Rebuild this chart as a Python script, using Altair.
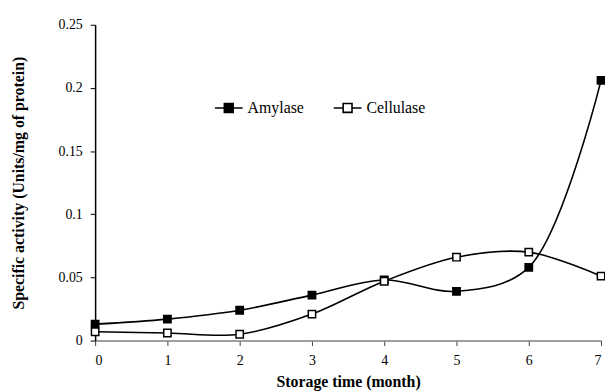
import altair as alt
import pandas as pd

months = [0, 1, 2, 3, 4, 5, 6, 7]
amylase = [0.013, 0.017, 0.024, 0.036, 0.048, 0.039, 0.058, 0.206]
cellulase = [0.007, 0.006, 0.005, 0.021, 0.047, 0.066, 0.070, 0.051]
series_names = ["Amylase", "Cellulase"]
y_ticks = [0, 0.05, 0.1, 0.15, 0.2, 0.25]

rows = []
for m, a in zip(months, amylase):
    rows.append({"month": m, "value": a, "series": "Amylase"})
for m, c in zip(months, cellulase):
    rows.append({"month": m, "value": c, "series": "Cellulase"})
df = pd.DataFrame(rows)

font = "Liberation Serif"

x = alt.X("month:Q", scale=alt.Scale(domain=[0, 7], nice=False, zero=False),
          axis=alt.Axis(title="Storage time (month)", values=months, format="d",
                        domainColor="#808080", tickColor="#404040", tickSize=5,
                        labelPadding=8, titlePadding=6, grid=False,
                        labelFont=font, labelFontSize=14, labelColor="black",
                        titleFont=font, titleFontSize=16, titleFontWeight="bold",
                        titleColor="black"))
y = alt.Y("value:Q", scale=alt.Scale(domain=[0, 0.25], nice=False),
          axis=alt.Axis(title="Specific activity (Units/mg of protein)", values=y_ticks,
                        format="~g",
                        domainColor="black", tickColor="black", tickSize=5,
                        labelPadding=8, titlePadding=32, grid=False,
                        labelFont=font, labelFontSize=14, labelColor="black",
                        titleFont=font, titleFontSize=16, titleFontWeight="bold",
                        titleColor="black"))

line = alt.Chart(df).mark_line(interpolate="catmull-rom", color="black", strokeWidth=1.6).encode(
    x=x, y=y, detail="series:N")

pts = alt.Chart(df).mark_point(shape="square", size=55, strokeWidth=1.5, opacity=1,
                                filled=False, stroke="black").encode(
    x=x, y=y,
    fill=alt.Fill("series:N", scale=alt.Scale(domain=series_names, range=["black", "white"]),
                  legend=alt.Legend(title=None, orient="none", legendX=120, legendY=69,
                                    direction="horizontal",
                                    symbolType="M-1,0H-0.32M0.32,0H1M-0.32,-0.32H0.32V0.32H-0.32Z",
                                    symbolSize=784, symbolStrokeColor="black",
                                    symbolStrokeWidth=1.6, symbolOpacity=1,
                                    labelFont=font, labelFontSize=16, labelColor="black",
                                    columnPadding=26, labelOffset=4)))

chart = (line + pts).properties(
    width=511, height=319,
    autosize=alt.AutoSizeParams(type="none"),
    padding={"left": 88, "top": 15, "right": 4, "bottom": 50},
).configure_view(stroke=None).configure_axis(domainWidth=1.5)

chart.save("out.html", embed_options={"renderer": "svg", "actions": False})
